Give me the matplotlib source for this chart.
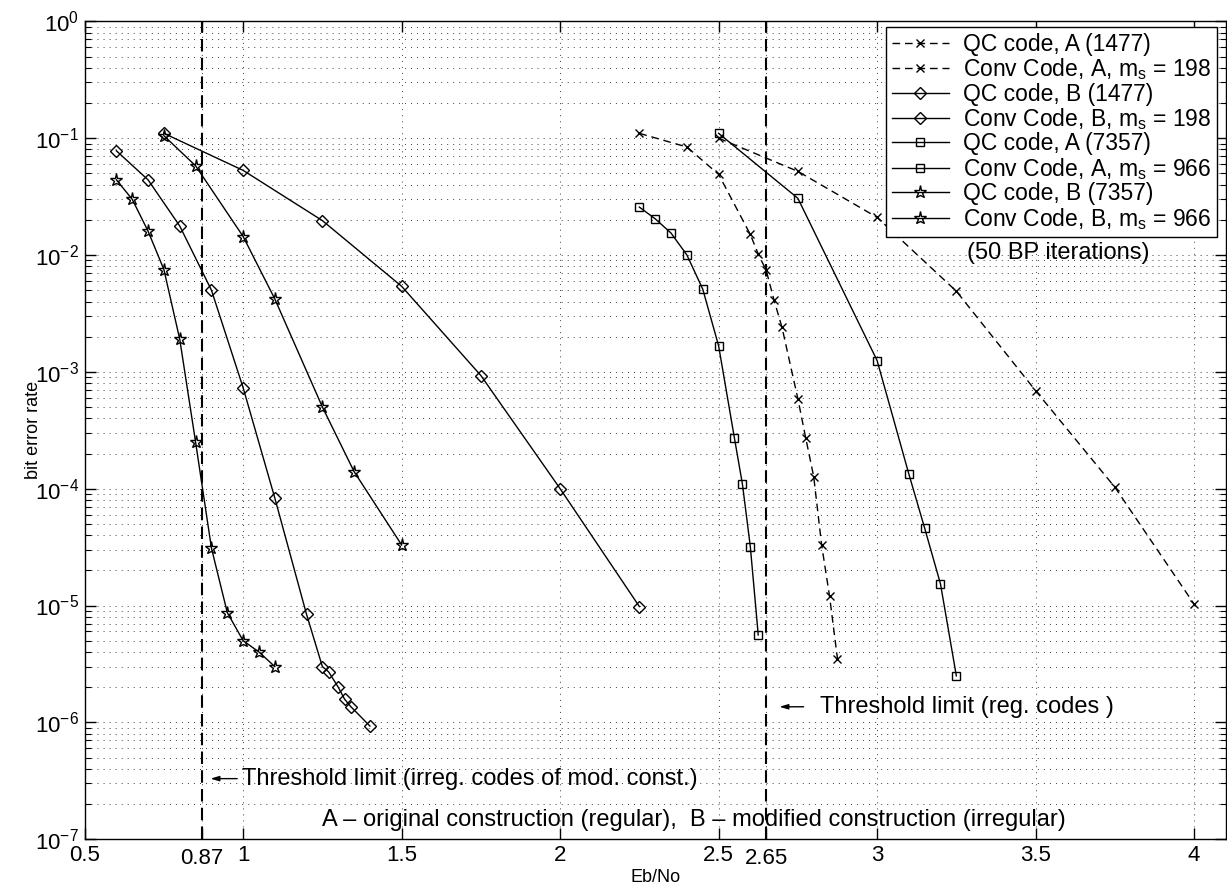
import matplotlib
matplotlib.use('Agg')
import matplotlib.pyplot as plt
from matplotlib.ticker import LogLocator, NullFormatter, FixedLocator
from matplotlib.transforms import ScaledTranslation

plt.rcParams['font.family'] = ['Liberation Sans', 'DejaVu Sans']
plt.rcParams['mathtext.default'] = 'regular'

# QC code, A (1477)
qcA1477_x = [2.5, 2.75, 3.0, 3.25, 3.5, 3.75, 4.0]
qcA1477_y = [0.10, 0.052, 0.021, 4.9e-3, 6.9e-4, 1.03e-4, 1.03e-5]
# Conv Code, A, ms = 198
convA198_x = [2.25, 2.4, 2.5, 2.6, 2.625, 2.65, 2.675, 2.7, 2.75, 2.775, 2.8, 2.825, 2.85, 2.875]
convA198_y = [0.11, 0.084, 0.049, 0.015, 0.0102, 0.0074, 0.0041, 0.0024, 5.9e-4, 2.7e-4, 1.27e-4,
              3.3e-5, 1.2e-5, 3.5e-6]
# QC code, B (1477)
qcB1477_x = [0.75, 1.0, 1.25, 1.5, 1.75, 2.0, 2.25]
qcB1477_y = [0.11, 0.053, 0.0197, 0.0054, 9.3e-4, 1.0e-4, 9.8e-6]
# Conv Code, B, ms = 198
convB198_x = [0.6, 0.7, 0.8, 0.9, 1.0, 1.1, 1.2, 1.25, 1.27, 1.3, 1.32, 1.34, 1.4]
convB198_y = [0.078, 0.044, 0.0177, 0.005, 7.3e-4, 8.3e-5, 8.4e-6, 3.0e-6, 2.7e-6, 2.0e-6,
              1.58e-6, 1.36e-6, 9.3e-7]
# QC code, A (7357)
qcA7357_x = [2.5, 2.75, 3.0, 3.1, 3.15, 3.2, 3.25]
qcA7357_y = [0.11, 0.0306, 1.25e-3, 1.34e-4, 4.6e-5, 1.53e-5, 2.5e-6]
# Conv Code, A, ms = 966
convA966_x = [2.25, 2.3, 2.35, 2.4, 2.45, 2.5, 2.55, 2.575, 2.6, 2.625]
convA966_y = [0.0257, 0.0204, 0.0154, 0.010, 0.0051, 0.00167, 2.7e-4, 1.1e-4, 3.2e-5, 5.6e-6]
# QC code, B (7357)
qcB7357_x = [0.75, 0.85, 1.0, 1.1, 1.25, 1.35, 1.5]
qcB7357_y = [0.105, 0.058, 0.0144, 0.0042, 5.0e-4, 1.4e-4, 3.3e-5]
# Conv Code, B, ms = 966
convB966_x = [0.6, 0.65, 0.7, 0.75, 0.8, 0.85, 0.9, 0.95, 1.0, 1.05, 1.1]
convB966_y = [0.044, 0.030, 0.016, 0.0075, 0.0019, 2.5e-4, 3.1e-5, 8.7e-6, 5.0e-6, 4.0e-6, 3.0e-6]

x_ticks = [0.5, 0.87, 1, 1.5, 2, 2.5, 2.65, 3, 3.5, 4]
x_ticklabels = ['0.5', '0.87', '1', '1.5', '2', '2.5', '2.65', '3', '3.5', '4']
thresholds = [0.87, 2.65]

fig = plt.figure(figsize=(12.27, 8.89), dpi=100)
ax = fig.add_axes([0.069, 0.056, 0.930, 0.920])

dash = (0, (5.5, 3.5))


def curve(x, y, ls, marker, ms, label):
    ax.plot(x, y, color='k', ls=ls, lw=1.0, marker=marker, ms=ms,
            mfc='none', mec='k', mew=1.0, label=label, zorder=3)


curve(qcA1477_x, qcA1477_y, dash, 'x', 6, 'QC code, A (1477)')
curve(convA198_x, convA198_y, dash, 'x', 6, r'Conv Code, A, $m_s$ = 198')
curve(qcB1477_x, qcB1477_y, '-', 'D', 6, 'QC code, B (1477)')
curve(convB198_x, convB198_y, '-', 'D', 6, r'Conv Code, B, $m_s$ = 198')
curve(qcA7357_x, qcA7357_y, '-', 's', 6, 'QC code, A (7357)')
curve(convA966_x, convA966_y, '-', 's', 6, r'Conv Code, A, $m_s$ = 966')
curve(qcB7357_x, qcB7357_y, '-', '*', 9.5, 'QC code, B (7357)')
curve(convB966_x, convB966_y, '-', '*', 9.5, r'Conv Code, B, $m_s$ = 966')

for t in thresholds:
    ax.axvline(t, color='k', lw=1.5, ls=(0, (6, 3)), zorder=2)

ax.set_yscale('log')
ax.set_xlim(0.5, 4.1)
ax.set_ylim(1e-7, 1)
ax.xaxis.set_major_locator(FixedLocator(x_ticks))
ax.set_xticklabels(x_ticklabels)
ax.yaxis.set_major_locator(LogLocator(base=10, numticks=20))
ax.yaxis.set_minor_locator(LogLocator(base=10, subs=range(2, 10), numticks=20))
ax.yaxis.set_minor_formatter(NullFormatter())

grid_ls = (0, (1, 5.2))
ax.grid(True, which='major', axis='both', color='0.25', lw=0.7, ls=grid_ls)
ax.grid(True, which='minor', axis='y', color='0.25', lw=0.7, ls=grid_ls)

ax.tick_params(which='both', direction='in', top=True, right=True, labelsize=16)
ax.tick_params(which='major', length=8, width=1, pad=4)
ax.tick_params(which='minor', length=4, width=0.8)
for s in ax.spines.values():
    s.set_linewidth(1.0)

# the two threshold labels sit a little lower in the original
for lab in ax.get_xticklabels():
    if lab.get_text() in ('0.87', '2.65'):
        lab.set_transform(lab.get_transform() + ScaledTranslation(0, -2.4 / 72, fig.dpi_scale_trans))

ax.set_xlabel('Eb/No', fontsize=13, labelpad=0)
ax.set_ylabel('bit error rate', fontsize=13)
ax.yaxis.set_label_coords(-0.037, 0.5)

leg = ax.legend(loc='upper right', bbox_to_anchor=(0.992, 0.993), fontsize=16.5,
                handlelength=2.5, labelspacing=0.02, borderpad=0.25, handletextpad=0.6,
                fancybox=False, edgecolor='k', framealpha=1, borderaxespad=0)
leg.get_frame().set_linewidth(1.0)
leg.set_zorder(5)

ax.text(3.57, 0.0105, '(50 BP iterations)', fontsize=17, ha='center', va='center')

ax.annotate('', xy=(0.888, 3.3e-7), xytext=(0.99, 3.3e-7),
            arrowprops=dict(arrowstyle='-|>,head_length=0.5,head_width=0.15', color='k', lw=1))
ax.text(0.995, 3.3e-7, 'Threshold limit (irreg. codes of mod. const.)', fontsize=17,
        ha='left', va='center')

ax.annotate('', xy=(2.683, 1.36e-6), xytext=(2.777, 1.36e-6),
            arrowprops=dict(arrowstyle='-|>,head_length=0.5,head_width=0.15', color='k', lw=1))
ax.text(2.82, 1.36e-6, 'Threshold limit (reg. codes )', fontsize=17, ha='left', va='center')

ax.text(1.25, 1.46e-7, 'A \u2013 original construction (regular),  B \u2013 modified construction (irregular)',
        fontsize=17, ha='left', va='center')

fig.savefig('out.png', dpi=100)
